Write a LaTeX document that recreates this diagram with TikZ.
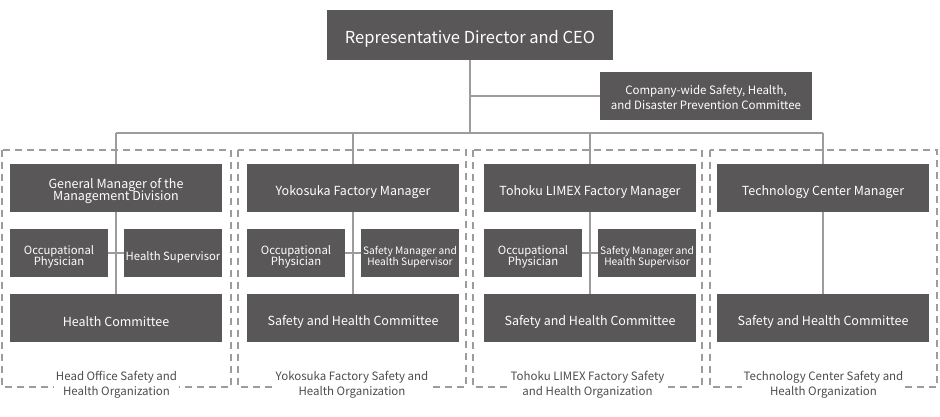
\documentclass[tikz,border=0pt]{standalone}
\usepackage{fontspec}
\setmainfont{Noto Sans CJK JP}
\usepackage{xcolor}
\usetikzlibrary{positioning}
\definecolor{boxgray}{HTML}{595757}
\definecolor{linegray}{HTML}{9C9C9C}
\definecolor{labelgray}{HTML}{4D4D4D}
\tikzset{%
	every box/.style={
		fill=boxgray,
		text=white,
		inner sep=0pt,
		align=center,
		execute at begin node={\lineskiplimit=-20pt\rule{0pt}{\dimexpr\fontcharht\font`l+8pt\relax}}
	},
	two lines/.style={
		execute at begin node={\rule{0pt}{\dimexpr\fontcharht\font`l+\baselineskip+#1\relax}}
	},
	two lines/.default=8pt,
	top box/.style={every box, minimum width=286pt, minimum height=50pt,
		font=\fontsize{16.5}{18}\selectfont},
	wide box/.style={every box, minimum width=212pt, minimum height=48pt,
		font=\fontsize{12.5}{12}\selectfont},
	small box/.style={every box, minimum width=98pt, minimum height=48pt,
		font=\fontsize{11.3}{11}\selectfont},
	tiny box/.style={small box, font=\fontsize{10.2}{11}\selectfont},
	link/.style={draw=linegray, line width=1.2pt},
	org frame/.style={draw=linegray, line width=1.5pt, dash pattern=on 7pt off 5pt},
	org label/.style={fill=white, text=labelgray, inner sep=2pt, align=center,
		font=\fontsize{11.5}{15}\selectfont},
}

\begin{document}
\begin{tikzpicture}[x=1pt, y=-1pt]
	\useasboundingbox (0,0) rectangle (940,417);
	% dashed frames of the four organizations
	\draw[org frame] (2,150) rectangle (231,387);
	\draw[org frame] (238,150) rectangle (466,387);
	\draw[org frame] (473,150) rectangle (702,387);
	\draw[org frame] (710,150) rectangle (937,387);

	% top level
	\node[top box] (ceo) at (470,35) {Representative Director and CEO};
	\node[wide box, two lines=2pt, font=\fontsize{11.5}{15}\selectfont] (cwc) at (706,96)
		{Company-wide Safety, Health,\\and Disaster Prevention Committee};
	\coordinate (bus) at (470,133);
	\coordinate (side) at (470,96);

	% managers
	\node[wide box, two lines=6pt] (gm) at (116,188) {General Manager of the\\Management Division};
	\node[wide box] (yfm) at (353,188) {Yokosuka Factory Manager};
	\node[wide box] (tfm) at (590,188) {Tohoku LIMEX Factory Manager};
	\node[wide box] (tcm) at (823,188) {Technology Center Manager};

	% physicians and supervisors
	\node[small box, two lines] (op1) at (59,253) {Occupational\\Physician};
	\node[small box] (hs1) at (173,253) {Health Supervisor};
	\node[small box, two lines] (op2) at (296,253) {Occupational\\Physician};
	\node[tiny box, two lines] (sm2) at (410,253) {Safety Manager and\\Health Supervisor};
	\node[small box, two lines] (op3) at (533,253) {Occupational\\Physician};
	\node[tiny box, two lines] (sm3) at (647,253) {Safety Manager and\\Health Supervisor};

	% committees
	\node[wide box] (hc) at (116,318) {Health Committee};
	\node[wide box] (shc2) at (353,318) {Safety and Health Committee};
	\node[wide box] (shc3) at (590,318) {Safety and Health Committee};
	\node[wide box] (shc4) at (823,318) {Safety and Health Committee};

	% organization labels
	\node[org label] (lab1) at (116.5,385) {Head Office Safety and\\Health Organization};
	\node[org label] (lab2) at (352,385) {Yokosuka Factory Safety and\\Health Organization};
	\node[org label] (lab3) at (587.5,385) {Tohoku LIMEX Factory Safety\\and Health Organization};
	\node[org label] (lab4) at (823.5,385) {Technology Center Safety and\\Health Organization};

	% connectors
	\draw[link] (ceo.south) -- (bus);
	\draw[link] (side) -- (cwc.west);
	\draw[link] (gm.north |- bus) -- (tcm.north |- bus);
	\foreach \m/\c in {gm/hc, yfm/shc2, tfm/shc3, tcm/shc4} {
		\draw[link] (\m.north |- bus) -- (\m.north);
		\draw[link] (\m.south) -- (\c.north);
	}
	\draw[link] (op1) -- (hs1);
	\draw[link] (op2) -- (sm2);
	\draw[link] (op3) -- (sm3);
\end{tikzpicture}
\end{document}
